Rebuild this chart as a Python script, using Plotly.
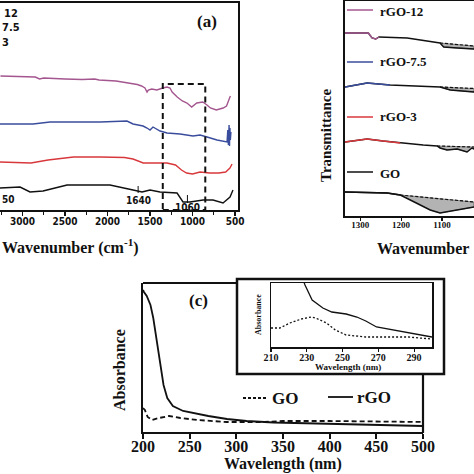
import numpy as np
import plotly.graph_objects as go

W = H = 474

# ---------------- Panel (a): FTIR full range (transmittance, a.u.) ----------------
a_wn_rgo12 = [3260, 3000, 2850, 2800, 2750, 2500, 2300, 2150, 2100, 1900, 1750, 1650, 1600, 1560, 1535, 1520,
              1480, 1420, 1350, 1300, 1265, 1240, 1180, 1120, 1065, 1010, 950, 880, 830, 790, 720, 670, 640,
              600, 570, 555]
a_t_rgo12 = [144, 143.5, 143, 141, 142, 141, 140.5, 141, 140, 139, 137, 135.5, 134, 132, 128, 130,
             131, 130, 132, 133, 132, 128, 123, 119, 117, 113, 117, 118, 115, 112, 110, 111, 112,
             114, 120, 124]
a_wn_rgo75 = [3265, 2876, 2676, 2088, 1771, 1700, 1640, 1582, 1535, 1500, 1465, 1382, 1300, 1147, 994, 912,
              829, 712, 594, 585, 578, 570, 565, 560, 555, 548]
a_t_rgo75 = [96, 96, 98, 98, 99, 96, 95, 94, 92, 90, 93, 89, 87, 86, 84, 85,
             83, 80, 78, 90, 75, 95, 74, 92, 80, 88]
a_wn_rgo3 = [3265, 3050, 2900, 2700, 2400, 2088, 1800, 1700, 1618, 1580, 1500, 1300, 1200, 1130, 1070, 1000,
             912, 800, 690, 610, 560, 535]
a_t_rgo3 = [58, 57, 57, 60, 63, 63, 62.5, 61, 58, 57, 57, 57, 55, 50, 47, 46,
            48, 47, 47, 48, 52, 56]
a_wn_go = [3265, 3029, 2912, 2759, 2476, 1971, 1700, 1594, 1500, 1382, 1182, 1147, 1112, 1029, 876, 759,
           641, 559, 524]
a_t_go = [32, 33, 28, 29, 35, 35, 30, 28, 30, 28, 27, 23, 18, 18, 20, 20,
          17, 23, 30]
a_ticks = [3000, 2500, 2000, 1500, 1000, 500]
a_peaks = [1640, 1060]

# ---------------- Panel (b): FTIR zoom 1350-850 ----------------
b_wn_rgo12 = [1337, 1280, 1271, 1262, 1254, 1185, 1105, 1096, 1063, 1022]
b_t_rgo12 = [187, 187, 182, 181, 183, 182, 177, 173, 172, 171]
b_base_rgo12 = ([1105, 1022], [177, 174])
b_wn_rgo75 = [1337, 1283, 1227, 1146, 1105, 1080, 1022]
b_t_rgo75 = [133, 137, 135, 134, 133, 130, 128]
b_base_rgo75 = ([1105, 1022], [133, 131.5])
b_wn_rgo3 = [1337, 1283, 1244, 1202, 1146, 1112, 1105, 1088, 1063, 1039, 1027, 1022]
b_t_rgo3 = [78, 81, 79, 77, 75, 74, 72, 70, 71, 68, 72, 71]
b_base_rgo3 = ([1112, 1022], [74, 73])
b_wn_go = [1337, 1234, 1202, 1161, 1129, 1105, 1063, 1022]
b_t_go = [28, 27, 25, 17, 10, 7, 10, 13]
b_base_go = ([1202, 1022], [25, 18])
b_ticks = [1300, 1200, 1100]

# ---------------- Panel (c): UV-vis ----------------
c_wl_rgo = [200, 201, 204, 208, 211, 215, 218, 222, 226, 232, 243, 258, 270, 290, 311, 340, 400, 500]
c_a_rgo = [150, 148, 144, 135, 122, 98, 78, 55, 42, 34, 29, 26, 24, 21, 19, 17.5, 16, 14]
c_wl_go = [200, 202, 205, 210, 217, 228, 240, 258, 290, 330, 350, 400, 500]
c_a_go = [32, 30, 23, 20, 22, 24, 22, 20, 18, 18, 19, 19, 18]
c_ticks = [200, 250, 300, 350, 400, 450, 500]

# inset
i_wl_rgo = [227, 229, 233, 239, 244, 252, 258, 263, 269, 275, 282, 289, 300]
i_a_rgo = [75, 65, 50, 42, 38, 36, 33, 29, 23, 21, 19, 16, 13]
i_wl_go = [210, 215, 220.5, 227, 232.5, 235, 241, 246, 252, 258, 263, 270, 280, 287, 293, 300]
i_a_go = [22, 22, 27, 31, 33, 32, 27, 20, 15, 14, 13, 13, 13, 13, 12, 11]
i_ticks = [210, 230, 250, 270, 290]

PURPLE = "#a4568f"
BLUE = "#3a4d9c"
RED = "#d8383c"
BLACK = "#111111"
SERIF = "Liberation Serif"
SANS = "DejaVu Sans Condensed, DejaVu Sans"


def px(x):
    return x / W


def py(y):
    return 1 - y / H


fig = go.Figure()

# Panel (a) traces
for wn, t, c in [(a_wn_rgo12, a_t_rgo12, PURPLE), (a_wn_rgo75, a_t_rgo75, BLUE),
                 (a_wn_rgo3, a_t_rgo3, RED), (a_wn_go, a_t_go, BLACK)]:
    fig.add_trace(go.Scatter(x=wn, y=t, mode="lines", line=dict(color=c, width=1.4),
                             xaxis="x", yaxis="y", showlegend=False, hoverinfo="skip"))

# Panel (b) traces
for wn, t, base, c in [(b_wn_rgo12, b_t_rgo12, b_base_rgo12, PURPLE),
                       (b_wn_rgo75, b_t_rgo75, b_base_rgo75, BLUE),
                       (b_wn_rgo3, b_t_rgo3, b_base_rgo3, RED),
                       (b_wn_go, b_t_go, b_base_go, BLACK)]:
    wn = np.array(wn, float)
    t = np.array(t, float)
    start = base[0][0]
    m = wn <= start
    poly_x = list(base[0]) + list(wn[m][::-1])
    poly_y = list(base[1]) + list(t[m][::-1])
    fig.add_trace(go.Scatter(x=poly_x, y=poly_y, mode="lines", fill="toself",
                             fillcolor="#b3b3b3", line=dict(color="#444", width=0.6),
                             xaxis="x2", yaxis="y2", showlegend=False, hoverinfo="skip"))
    fig.add_trace(go.Scatter(x=wn, y=t, mode="lines", line=dict(color=BLACK, width=1.4),
                             xaxis="x2", yaxis="y2", showlegend=False, hoverinfo="skip"))
    mc = wn >= 1195
    fig.add_trace(go.Scatter(x=wn[mc], y=t[mc], mode="lines", line=dict(color=c, width=1.4),
                             xaxis="x2", yaxis="y2", showlegend=False, hoverinfo="skip"))
    fig.add_trace(go.Scatter(x=base[0], y=base[1], mode="lines",
                             line=dict(color=BLACK, width=1.2, dash="3px,2px"),
                             xaxis="x2", yaxis="y2", showlegend=False, hoverinfo="skip"))

# Panel (c) traces
fig.add_trace(go.Scatter(x=c_wl_go, y=c_a_go, mode="lines",
                         line=dict(color=BLACK, width=1.8, dash="5px,3px"),
                         xaxis="x3", yaxis="y3", showlegend=False, hoverinfo="skip"))
fig.add_trace(go.Scatter(x=c_wl_rgo, y=c_a_rgo, mode="lines", line=dict(color=BLACK, width=1.8),
                         xaxis="x3", yaxis="y3", showlegend=False, hoverinfo="skip"))
# inset
fig.add_trace(go.Scatter(x=i_wl_go, y=i_a_go, mode="lines",
                         line=dict(color=BLACK, width=1.3, dash="2px,2px"),
                         xaxis="x4", yaxis="y4", showlegend=False, hoverinfo="skip"))
fig.add_trace(go.Scatter(x=i_wl_rgo, y=i_a_rgo, mode="lines", line=dict(color=BLACK, width=1.3),
                         xaxis="x4", yaxis="y4", showlegend=False, hoverinfo="skip"))

axis_common = dict(showgrid=False, zeroline=False, color=BLACK, automargin=False)

fig.update_layout(
    width=W, height=H, margin=dict(l=0, r=0, t=0, b=0, pad=0, autoexpand=False),
    paper_bgcolor="white", plot_bgcolor="rgba(0,0,0,0)",
    xaxis=dict(domain=[0, px(238)], range=[3265, 465], tickvals=a_ticks, ticks="outside",
               ticklen=4, tickwidth=1.3, showline=True, mirror=True, linewidth=1.6, linecolor=BLACK,
               minor=dict(dtick=250, tick0=500, ticks="outside", ticklen=3, tickcolor=BLACK),
               tickfont=dict(family=SANS, size=10, color=BLACK, weight="bold"), anchor="y",
               ticklabelstandoff=-3, **axis_common),
    yaxis=dict(domain=[py(210), py(3)], range=[10, 217], showticklabels=False, ticks="",
               showline=True, side="right", linewidth=1.6, linecolor=BLACK, anchor="x", **axis_common),
    xaxis2=dict(domain=[px(345), 1], range=[1337, 1022], tickvals=b_ticks, ticks="outside",
                ticklen=3, tickwidth=1.2, showline=True, mirror=True, linewidth=1.6, linecolor=BLACK,
                tickfont=dict(family=SERIF, size=9, color=BLACK, weight="bold"), anchor="y2",
                ticklabelstandoff=-3, **axis_common),
    yaxis2=dict(domain=[py(216), py(1)], range=[4, 219], showticklabels=False, ticks="",
                showline=True, linewidth=1.6, linecolor=BLACK, anchor="x2", **axis_common),
    xaxis3=dict(domain=[px(143), px(423)], range=[200, 500], tickvals=c_ticks, ticks="outside",
                ticklen=5, tickwidth=2, showline=True, linewidth=2.2, linecolor=BLACK,
                tickfont=dict(family=SERIF, size=16, color=BLACK, weight="bold"), anchor="y3",
                ticklabelstandoff=-6, **axis_common),
    yaxis3=dict(domain=[py(432), py(283)], range=[8, 157], showticklabels=False, ticks="",
                showline=True, linewidth=2.2, linecolor=BLACK, anchor="x3", **axis_common),
    xaxis4=dict(domain=[px(271), px(432)], range=[210, 300], tickvals=i_ticks, ticks="outside",
                ticklen=3, tickwidth=1.2, showline=True, mirror=True, linewidth=1.5, linecolor=BLACK,
                tickfont=dict(family=SERIF, size=10, color=BLACK, weight="bold"), anchor="y4",
                ticklabelstandoff=-3, **axis_common),
    yaxis4=dict(domain=[py(347), py(283)], range=[3, 67], showticklabels=False, ticks="",
                showline=True, mirror=True, linewidth=1.5, linecolor=BLACK, anchor="x4", **axis_common),
)

shapes = []
# dashed box in (a)
shapes.append(dict(type="rect", xref="x", yref="y", x0=1350, x1=850, y0=10, y1=136,
                   line=dict(color=BLACK, width=2, dash="6px,4px")))
# peak markers in (a)
shapes.append(dict(type="line", xref="x", yref="y", x0=a_peaks[0], x1=a_peaks[0], y0=27, y1=34,
                   line=dict(color=BLACK, width=1)))
shapes.append(dict(type="line", xref="x", yref="y", x0=a_peaks[1], x1=a_peaks[1], y0=17, y1=25,
                   line=dict(color=BLACK, width=1)))
# legend lines in (b)
for yy, c in [(10, PURPLE), (62, BLUE), (117, RED), (172, BLACK)]:
    shapes.append(dict(type="line", xref="paper", yref="paper", x0=px(347), x1=px(373),
                       y0=py(yy), y1=py(yy), line=dict(color=c, width=1.5)))
# (c) top and right borders (avoiding the inset frame)
shapes.append(dict(type="line", xref="paper", yref="paper", x0=px(143), x1=px(237), y0=py(283), y1=py(283),
                   line=dict(color=BLACK, width=2.2)))
shapes.append(dict(type="line", xref="paper", yref="paper", x0=px(423), x1=px(423), y0=py(374), y1=py(433),
                   line=dict(color=BLACK, width=2.2)))
# inset frame
shapes.append(dict(type="rect", xref="paper", yref="paper", x0=px(237), x1=px(444), y0=py(374), y1=py(279),
                   line=dict(color=BLACK, width=2.5), layer="above"))
# (c) legend lines
shapes.append(dict(type="line", xref="paper", yref="paper", x0=px(243), x1=px(268), y0=py(398), y1=py(398),
                   line=dict(color=BLACK, width=1.8, dash="3px,2px")))
shapes.append(dict(type="line", xref="paper", yref="paper", x0=px(328), x1=px(353), y0=py(397), y1=py(397),
                   line=dict(color=BLACK, width=1.8)))
fig.update_layout(shapes=shapes)

ann = []


def txt(x, y, s, size, family=SERIF, xanchor="center", angle=0):
    ann.append(dict(xref="paper", yref="paper", x=px(x), y=py(y), text=s, showarrow=False,
                    xanchor=xanchor, yanchor="middle", textangle=angle,
                    font=dict(family=family, size=size, color=BLACK, weight="bold")))


# (a)
txt(2, 14, "12", 11, SANS, "left")
txt(0, 28, "7.5", 11, SANS, "left")
txt(0, 42, "3", 11, SANS, "left")
txt(207, 21, "(a)", 17)
txt(0, 199, "50", 10, SANS, "left")
ann.append(dict(xref="x", yref="y", x=a_peaks[0], y=20, text="1640", showarrow=False,
                font=dict(family=SANS, size=10, color=BLACK, weight="bold")))
ann.append(dict(xref="x", yref="y", x=a_peaks[1], y=13, text="1060", showarrow=False,
                font=dict(family=SANS, size=10, color=BLACK, weight="bold")))
txt(0, 247, "Wavenumber (cm<sup>-1</sup>)", 16, SERIF, "left")
# (b)
txt(378, 11, "rGO-12", 13, SERIF, "left")
txt(378, 62, "rGO-7.5", 13, SERIF, "left")
txt(378, 117, "rGO-3", 13, SERIF, "left")
txt(378, 173, "GO", 13, SERIF, "left")
txt(326, 136, "Transmittance", 15, SERIF, "center", -90)
txt(423, 248, "Wavenumber", 16)
# (c)
txt(198, 300, "(c)", 17)
txt(119, 370, "Absorbance", 16, SERIF, "center", -90)
txt(283, 464, "Wavelength (nm)", 16)
txt(270, 398, "GO", 17, SERIF, "left")
txt(355, 397, "rGO", 17, SERIF, "left")
# inset
txt(348, 367, "Wavelength (nm)", 9)
txt(258, 315, "Absorbance", 8, SERIF, "center", -90)
fig.update_layout(annotations=ann)

fig.write_html("out.html", config={"displayModeBar": False, "staticPlot": True},
               post_script="document.body.style.margin='0';document.body.style.overflow='hidden';")
